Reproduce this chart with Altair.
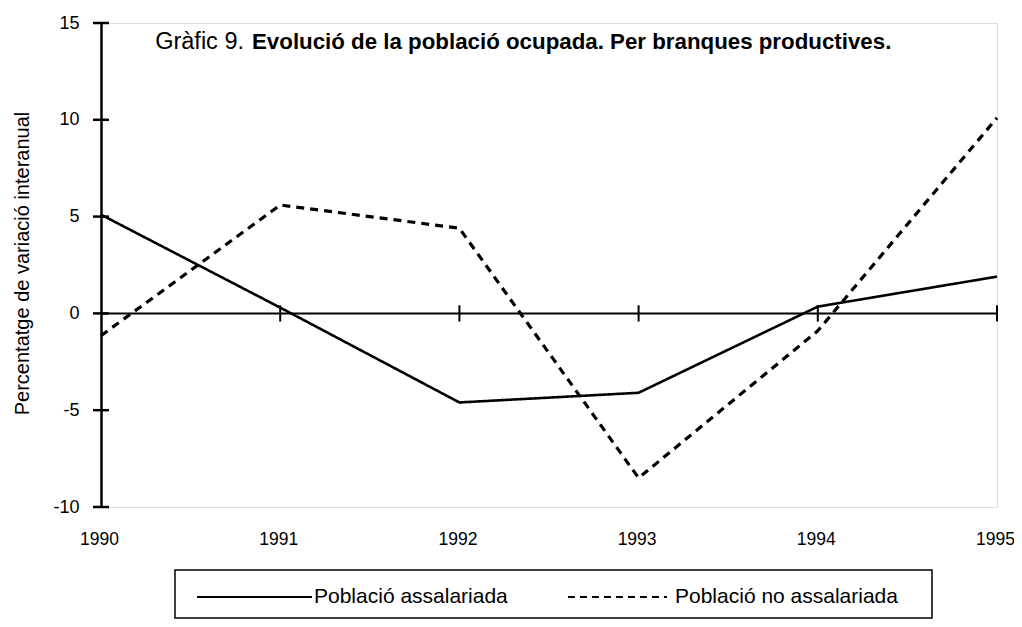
import altair as alt
import pandas as pd

# ---- data ----
years = [1990, 1991, 1992, 1993, 1994, 1995]
assalariada = [5.1, 0.3, -4.6, -4.1, 0.35, 1.9]
no_assalariada = [-1.15, 5.6, 4.4, -8.5, -0.9, 10.1]
series_names = ["Població assalariada", "Població no assalariada"]
y_ticks = [-10, -5, 0, 5, 10, 15]
title_plain = "Gràfic 9."
title_bold = "Evolució de la població ocupada. Per branques productives."
y_title = "Percentatge de variació interanual"

df = pd.DataFrame({
    "year": years * 2,
    "value": assalariada + no_assalariada,
    "serie": [series_names[0]] * len(years) + [series_names[1]] * len(years),
})
one = pd.DataFrame({"k": [0]})
leg_df = pd.DataFrame({"serie": series_names})

FONT = "Liberation Sans"
W, H = 896, 484

x_scale = alt.Scale(domain=[1990, 1995], nice=False, zero=False)
y_scale = alt.Scale(domain=[-10, 15], nice=False, zero=False)

x_axis = alt.Axis(values=years, format="d", domain=False, ticks=False, grid=False,
                  labelPadding=37, labelBaseline="alphabetic", labelFontSize=17.5,
                  labelOffset=-2,
                  labelFlush=False, labelBound=False, labelOverlap=False,
                  labelFont=FONT, labelColor="black", title=None)
y_axis = alt.Axis(values=y_ticks, domain=True, domainColor="black", domainWidth=2.5,
                  ticks=False, grid=False, labelPadding=22, labelFontSize=18,
                  labelExpr="datum.value < 0 ? '-' + abs(datum.value) : '' + datum.value",
                  labelFont=FONT, labelColor="black",
                  title=y_title, titleFont=FONT, titleFontSize=20,
                  titleFontWeight="normal", titleColor="black",
                  titleX=-73, titleY=H / 2 - 2, titleAngle=-90,
                  titleAlign="center", titleBaseline="alphabetic")

lines = alt.Chart(df).mark_line(color="black").encode(
    x=alt.X("year:Q", scale=x_scale, axis=x_axis),
    y=alt.Y("value:Q", scale=y_scale, axis=y_axis),
    strokeDash=alt.StrokeDash("serie:N", scale=alt.Scale(domain=series_names, range=[[1, 0], [8, 6]]), legend=None),
    strokeWidth=alt.StrokeWidth("serie:N", scale=alt.Scale(domain=series_names, range=[2.6, 3.2]), legend=None),
    detail="serie:N",
)

zero_line = alt.Chart(pd.DataFrame({"z": [0]})).mark_rule(color="black", strokeWidth=2).encode(
    y=alt.Y("z:Q", title=y_title),
)

x_ticks = alt.Chart(pd.DataFrame({"year": years[1:]})).mark_rule(color="black", strokeWidth=2).encode(
    x=alt.X("year:Q", title=None),
    y=alt.datum(-0.42),
    y2=alt.datum(0.42),
)

y_tick_marks = alt.Chart(pd.DataFrame({"t": y_ticks})).mark_rule(color="black", strokeWidth=2.5).encode(
    y=alt.Y("t:Q", title=y_title),
    x=alt.value(-8),
    x2=alt.value(8),
)

t_plain = alt.Chart(one).mark_text(align="right", baseline="alphabetic", font=FONT,
                                   fontSize=23.5, color="black").encode(
    x=alt.value(143), y=alt.value(26), text=alt.value(title_plain))
t_bold = alt.Chart(one).mark_text(align="left", baseline="alphabetic", font=FONT,
                                  fontSize=22.3, fontWeight="bold", color="black").encode(
    x=alt.value(151), y=alt.value(26), text=alt.value(title_bold))

# legend box
box = alt.Chart(one).mark_rect(filled=False, stroke="black", strokeWidth=1.5).encode(
    x=alt.value(74), x2=alt.value(831), y=alt.value(547), y2=alt.value(595))

leg_solid = alt.Chart(leg_df).transform_filter(alt.datum.serie == series_names[0]).mark_rule(
    color="black", strokeWidth=2).encode(x=alt.value(96), x2=alt.value(211), y=alt.value(574))
leg_dash = alt.Chart(leg_df).transform_filter(alt.datum.serie == series_names[1]).mark_rule(
    color="black", strokeWidth=2, strokeDash=[7, 5]).encode(x=alt.value(467), x2=alt.value(566), y=alt.value(574))
leg_t1 = alt.Chart(leg_df).transform_filter(alt.datum.serie == series_names[0]).mark_text(
    align="left", baseline="middle", font=FONT, fontSize=21, color="black").encode(
    x=alt.value(213), y=alt.value(574), text="serie:N")
leg_t2 = alt.Chart(leg_df).transform_filter(alt.datum.serie == series_names[1]).mark_text(
    align="left", baseline="middle", font=FONT, fontSize=21, color="black").encode(
    x=alt.value(574), y=alt.value(574), text="serie:N")

chart = alt.layer(
    lines, zero_line, x_ticks, y_tick_marks, t_plain, t_bold,
    box, leg_solid, leg_dash, leg_t1, leg_t2,
).properties(
    width=W, height=H,
    autosize=alt.AutoSizeParams(type="none"),
    padding={"left": 93, "top": 15, "right": 17, "bottom": 112},
).configure_view(stroke=None).configure(background="white")

chart.save("out.html", embed_options={"renderer": "svg", "actions": False})
